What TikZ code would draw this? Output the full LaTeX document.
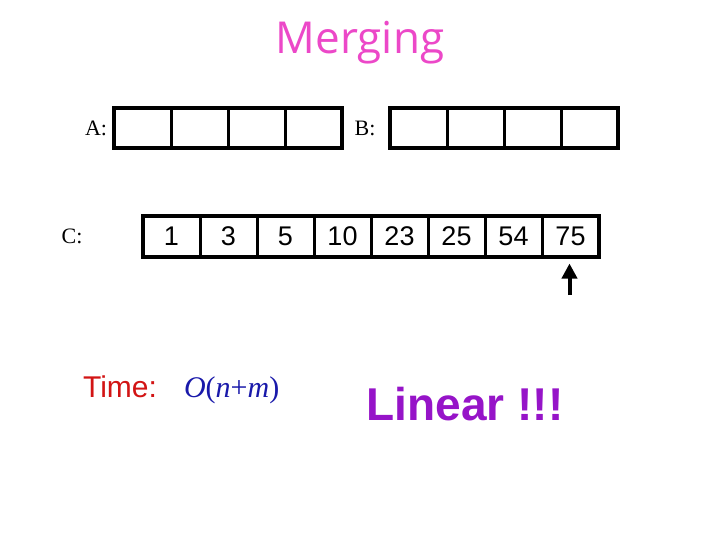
\documentclass[tikz,border=0pt]{standalone}
\usepackage{fontspec}
\setmainfont{Liberation Serif}
\setsansfont{Liberation Sans}
\newfontfamily\titlefont{Open Sans}
\usepackage{tikz}
\usetikzlibrary{arrows,arrows.meta,positioning}
\definecolor{titelpink}{RGB}{236,72,200}
\definecolor{zeitrot}{RGB}{210,20,20}
\definecolor{ordblau}{RGB}{25,25,170}
\definecolor{linlila}{RGB}{150,20,200}
\tikzset{
  %Define standard arrow tip
  >={Triangle[length=15pt,width=15pt]},
  %Define style for array cells
  zelle/.style={
    rectangle,
    draw=black, line width=3pt,
    minimum width=57pt,
    minimum height=40pt,
    inner sep=0pt, outer sep=0pt,
    font=\sffamily\fontsize{27}{27}\selectfont},
  % Define style for array names
  feld/.style={
    font=\fontsize{22}{22}\selectfont},
  % Define arrow style
  zeig/.style={
    ->,
    line width=4pt,
    shorten >=7pt}
}

\begin{document}
\begin{tikzpicture}[x=1pt,y=-1pt,node distance=0pt]
      \useasboundingbox (0,0) rectangle (720,540);
      \node[font=\titlefont\fontsize{44}{44}\selectfont,text=titelpink] (titel) at (360,43) {Merging};
      % array A
      \node[feld] (nameA) at (96,128) {A:};
      \node[zelle] (a1) at (142.5,128) {};
      \node[zelle,right=of a1] (a2) {};
      \node[zelle,right=of a2] (a3) {};
      \node[zelle,right=of a3] (a4) {};
      \draw[line width=4pt] (a1.north west) rectangle (a4.south east);
      % array B
      \node[feld] (nameB) at (365,128) {B:};
      \node[zelle] (b1) at (418.5,128) {};
      \node[zelle,right=of b1] (b2) {};
      \node[zelle,right=of b2] (b3) {};
      \node[zelle,right=of b3] (b4) {};
      \draw[line width=4pt] (b1.north west) rectangle (b4.south east);
      % array C
      \node[feld] (nameC) at (72,236) {C:};
      \node[zelle] (c1) at (171.5,236.5) {1};
      \node[zelle,right=of c1] (c2) {3};
      \node[zelle,right=of c2] (c3) {5};
      \node[zelle,right=of c3] (c4) {10};
      \node[zelle,right=of c4] (c5) {23};
      \node[zelle,right=of c5] (c6) {25};
      \node[zelle,right=of c6] (c7) {54};
      \node[zelle,right=of c7] (c8) {75};
      \draw[line width=4pt] (c1.north west) rectangle (c8.south east);
      \coordinate (oben) at ([xshift=-1pt]c8.south);
      \coordinate (unten) at (oben |- 0,295);
      \draw[zeig] (unten) -- (oben);
      % running time
      \node[font=\sffamily\fontsize{30}{30}\selectfont,text=zeitrot] (zeit) at (120,387) {Time:};
      \node[anchor=base west,font=\fontsize{30}{30}\selectfont\itshape,text=ordblau] (ordnung) at ([xshift=20pt]zeit.base east) {O\upshape(\itshape n\upshape+\itshape m\upshape)};
      \node[font=\sffamily\bfseries\fontsize{46}{46}\selectfont,text=linlila] (linear) at (465,404) {Linear !!!};
    \end{tikzpicture}
\end{document}
